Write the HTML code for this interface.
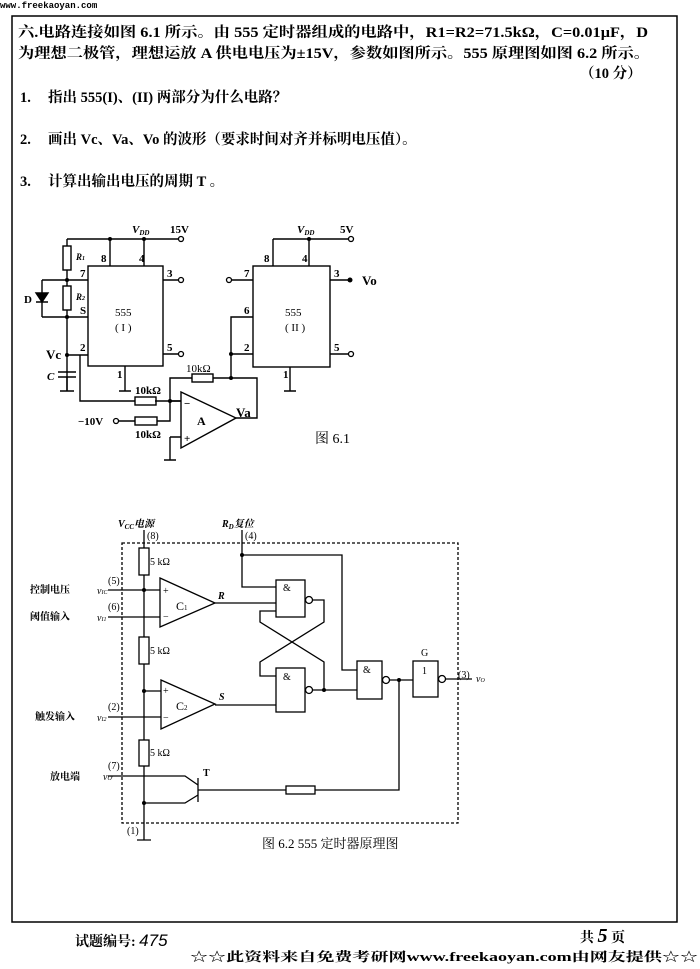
<!DOCTYPE html>
<html><head><meta charset="utf-8"><style>
html,body{margin:0;padding:0;background:#fff;}
svg{display:block;font-family:"Liberation Serif","Noto Serif CJK SC","Noto Sans CJK SC",serif;}
</style></head><body>
<svg width="700" height="969" viewBox="0 0 700 969" xmlns="http://www.w3.org/2000/svg">
<rect width="700" height="969" fill="#fff"/>
<text x="0" y="8" font-family="Liberation Mono,monospace" font-size="9" font-weight="bold">www.freekaoyan.com</text>
<rect x="12" y="16" width="665" height="906" fill="none" stroke="#000" stroke-width="1.5"/>
<g font-size="14.5" font-weight="bold" fill="#000">
<text x="18" y="37" textLength="630" lengthAdjust="spacingAndGlyphs">六.电路连接如图 6.1 所示。由 555 定时器组成的电路中，R1=R2=71.5kΩ，C=0.01μF，D</text>
<text x="18" y="58" textLength="632" lengthAdjust="spacingAndGlyphs">为理想二极管，理想运放 A 供电电压为±15V，参数如图所示。555 原理图如图 6.2 所示。</text>
<text x="580" y="78">（10 分）</text>
<text x="20" y="102">1.</text><text x="48" y="102">指出 555(I)、(II) 两部分为什么电路？</text>
<text x="20" y="144">2.</text><text x="48" y="144">画出 Vc、Va、Vo 的波形（要求时间对齐并标明电压值）。</text>
<text x="20" y="186">3.</text><text x="48" y="186">计算出输出电压的周期 T 。</text>
</g>
<!-- Figure 6.1 -->
<g stroke="#000" stroke-width="1.4" fill="none">
<path d="M67 239H181 M110 239V266 M144 239V266"/>
<rect x="88" y="266" width="75" height="100"/>
<path d="M67 239V246 M67 270V286 M67 310V391"/>
<rect x="63" y="246" width="8" height="24"/><rect x="63" y="286" width="8" height="24"/>
<path d="M67 280H88 M67 317H88 M42 280H67 M42 317H67 M42 280V317"/>
<path d="M36 302H48 M36 293L48 293L42 302Z" fill="#000"/>
<path d="M67 355H88 M80 355V401H135 M155 401H181 M163 280H181 M163 354H181"/>
<path d="M58 372H76 M58 377H76 M67 377V391 M60 391H74"/>
<path d="M125 366V391 M119 391H131"/>
<rect x="135" y="397" width="21" height="8"/>
<path d="M118 421H135 M157 421H170V378H192 M213 378H257V418H236 M170 401H181 M170 437H181 M170 437V460 M164 460H176"/>
<rect x="192" y="374" width="21" height="8"/><rect x="135" y="417" width="22" height="8"/>
<path d="M181 392L236 418L181 448Z"/>
<path d="M231 378V317H253 M231 354H253 M231 280H253"/>
<path d="M273 239H351 M273 239V266 M309 239V266"/>
<rect x="253" y="266" width="77" height="101"/>
<path d="M330 280H350 M330 354H351 M290 367V391 M284 391H296"/>
</g>
<g fill="#000"><circle cx="67" cy="280" r="2"/><circle cx="67" cy="317" r="2"/><circle cx="67" cy="355" r="2"/><circle cx="110" cy="239" r="2"/><circle cx="144" cy="239" r="2"/><circle cx="170" cy="401" r="2"/><circle cx="231" cy="378" r="2"/><circle cx="231" cy="354" r="2"/><circle cx="309" cy="239" r="2"/><circle cx="350" cy="280" r="2.5"/></g>
<g fill="#fff" stroke="#000" stroke-width="1.3"><circle cx="181" cy="239" r="2.5"/><circle cx="181" cy="280" r="2.5"/><circle cx="181" cy="354" r="2.5"/><circle cx="116" cy="421" r="2.5"/><circle cx="229" cy="280" r="2.5"/><circle cx="351" cy="239" r="2.5"/><circle cx="351" cy="354" r="2.5"/></g>
<g font-size="11" font-weight="bold" fill="#000">
<text x="132" y="233" font-style="italic">V<tspan font-size="7" dy="2">DD</tspan></text><text x="170" y="233">15V</text>
<text x="297" y="233" font-style="italic">V<tspan font-size="7" dy="2">DD</tspan></text><text x="340" y="233">5V</text>
<text x="76" y="260" font-style="italic" font-size="9">R<tspan font-size="6">1</tspan></text>
<text x="76" y="300" font-style="italic" font-size="9">R<tspan font-size="6">2</tspan></text>
<text x="24" y="303">D</text>
<text x="46" y="359" font-size="13">Vc</text><text x="47" y="380" font-style="italic">C</text>
<text x="101" y="262">8</text><text x="139" y="262">4</text><text x="80" y="277">7</text><text x="80" y="314">S</text><text x="80" y="351">2</text>
<text x="167" y="277">3</text><text x="167" y="351">5</text><text x="117" y="378">1</text>
<text x="115" y="316" font-weight="normal">555</text><text x="115" y="331" font-weight="normal">( I )</text>
<text x="264" y="262">8</text><text x="302" y="262">4</text><text x="244" y="277">7</text><text x="244" y="314">6</text><text x="244" y="351">2</text>
<text x="334" y="277">3</text><text x="334" y="351">5</text><text x="283" y="378">1</text>
<text x="362" y="285" font-size="13">Vo</text>
<text x="285" y="316" font-weight="normal">555</text><text x="285" y="331" font-weight="normal">( II )</text>
<text x="186" y="372" font-weight="normal">10kΩ</text><text x="135" y="394">10kΩ</text><text x="135" y="438">10kΩ</text>
<text x="78" y="425">−10V</text>
<text x="197" y="425" font-size="12">A</text><text x="236" y="417" font-size="13">Va</text>
<text x="184" y="407">−</text><text x="184" y="442">+</text>
<text x="315" y="443" font-size="14" font-weight="normal">图 6.1</text>
</g>
<!-- Figure 6.2 -->
<g stroke="#000" stroke-width="1.3" fill="none">
<rect x="122" y="543" width="336" height="280" stroke-dasharray="3,2"/>
<path d="M144 530V548 M144 575V637 M144 664V740 M144 766V840 M137 840H151"/>
<rect x="139" y="548" width="10" height="27"/><rect x="139" y="637" width="10" height="27"/><rect x="139" y="740" width="10" height="26"/>
<path d="M108 590H160 M108 617H160 M144 691H161 M108 717H161"/>
<path d="M160 578L215 603L160 627Z M161 680L215 704L161 729Z"/>
<path d="M215 603H276 M215 705H276"/>
<path d="M242 530V587H276 M242 555H342V670H357"/>
<rect x="276" y="580" width="29" height="37"/><rect x="276" y="668" width="29" height="44"/>
<circle cx="309" cy="600" r="3.5"/><circle cx="309" cy="690" r="3.5"/>
<path d="M313 600H324V622L260 662V676H276 M312 690H357 M324 690V662L260 622V611H276"/>
<rect x="357" y="661" width="25" height="38"/><circle cx="386" cy="680" r="3.5"/>
<path d="M390 680H413 M399 680V790H315 M286 790H198"/>
<rect x="286" y="786" width="29" height="8"/>
<rect x="413" y="661" width="25" height="36"/><circle cx="442" cy="679" r="3.5"/>
<path d="M446 679H472"/>
<path d="M198 778V802 M108 776H185L198 785 M198 795L185 803H144"/>
</g>
<g fill="#000"><circle cx="144" cy="590" r="2"/><circle cx="144" cy="691" r="2"/><circle cx="144" cy="803" r="2"/><circle cx="242" cy="555" r="2"/><circle cx="324" cy="690" r="2"/><circle cx="399" cy="680" r="2"/></g>
<g font-size="10" font-weight="bold" fill="#000">
<text x="118" y="527" font-style="italic">V<tspan font-size="7" dy="2">CC</tspan><tspan dy="-2">电源</tspan></text>
<text x="147" y="539" font-weight="normal">(8)</text>
<text x="222" y="527" font-style="italic">R<tspan font-size="7" dy="2">D</tspan><tspan dy="-2">复位</tspan></text>
<text x="245" y="539" font-weight="normal">(4)</text>
<text x="150" y="565" font-weight="normal">5 kΩ</text><text x="150" y="654" font-weight="normal">5 kΩ</text><text x="150" y="756" font-weight="normal">5 kΩ</text>
<text x="30" y="593">控制电压</text><text x="108" y="584" font-weight="normal">(5)</text><text x="97" y="594" font-style="italic" font-weight="normal">v<tspan font-size="6">IC</tspan></text>
<text x="30" y="620">阈值输入</text><text x="108" y="610" font-weight="normal">(6)</text><text x="97" y="621" font-style="italic" font-weight="normal">v<tspan font-size="6">I1</tspan></text>
<text x="35" y="720">触发输入</text><text x="108" y="710" font-weight="normal">(2)</text><text x="97" y="721" font-style="italic" font-weight="normal">v<tspan font-size="6">I2</tspan></text>
<text x="50" y="780">放电端</text><text x="108" y="769" font-weight="normal">(7)</text><text x="103" y="780" font-style="italic" font-weight="normal">v<tspan font-size="6">O'</tspan></text>
<text x="127" y="834" font-weight="normal">(1)</text>
<text x="163" y="594" font-weight="normal">+</text><text x="163" y="620" font-weight="normal">−</text>
<text x="163" y="694" font-weight="normal">+</text><text x="163" y="721" font-weight="normal">−</text>
<text x="176" y="610" font-size="12" font-weight="normal">C<tspan font-size="7">1</tspan></text>
<text x="176" y="710" font-size="12" font-weight="normal">C<tspan font-size="7">2</tspan></text>
<text x="218" y="599" font-style="italic">R</text><text x="219" y="700" font-style="italic">S</text>
<text x="283" y="591" font-weight="normal">&amp;</text><text x="283" y="680" font-weight="normal">&amp;</text><text x="363" y="673" font-weight="normal">&amp;</text>
<text x="421" y="656" font-weight="normal">G</text><text x="422" y="674" font-weight="normal">1</text>
<text x="458" y="678" font-weight="normal">(3)</text><text x="476" y="682" font-style="italic" font-weight="normal">v<tspan font-size="6">O</tspan></text>
<text x="203" y="776">T</text>
<text x="262" y="848" font-size="13" font-weight="normal">图 6.2   555 定时器原理图</text>
</g>
<text x="75" y="946" font-size="14" font-weight="bold">试题编号: <tspan font-family="Liberation Sans,sans-serif" font-style="italic" font-weight="normal" font-size="17">475</tspan></text>
<text x="580" y="942" font-size="14" font-weight="bold">共 <tspan font-style="italic" font-size="20">5</tspan>  页</text>
<text x="190" y="961" font-size="12.5" font-weight="bold" textLength="508" lengthAdjust="spacingAndGlyphs">☆☆此资料来自免费考研网www.freekaoyan.com由网友提供☆☆</text>
</svg>
</body></html>
